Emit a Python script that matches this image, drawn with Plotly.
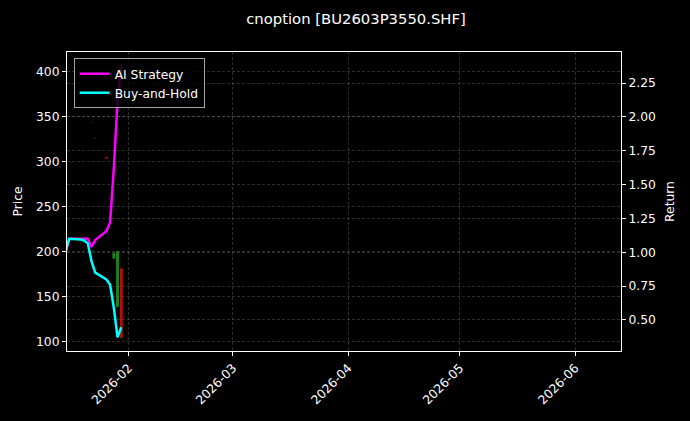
import plotly.graph_objects as go

# daily returns of the two equity curves (right axis)
dates = ['2026-01-15', '2026-01-16', '2026-01-19', '2026-01-20', '2026-01-21', '2026-01-22',
         '2026-01-23', '2026-01-26', '2026-01-27', '2026-01-28', '2026-01-29', '2026-01-30']
ai_ret = [1.00, 1.10, 1.10, 1.10, 1.10, 1.04, 1.09, 1.155, 1.22, 1.62, 2.12, 2.378]
bh_ret = [1.00, 1.10, 1.095, 1.087, 1.066, 0.935, 0.85, 0.80, 0.76, 0.59, 0.372, 0.446]

# option candles (left axis)
c_dates = ['2026-01-22', '2026-01-23', '2026-01-26', '2026-01-28', '2026-01-29', '2026-01-30']
c_open = [344, 326, 304.5, 192.6, 139, 181]
c_high = [344.5, 326.5, 305, 198.2, 200, 181]
c_low = [343.5, 325.5, 303.5, 192.6, 139, 104.8]
c_close = [343.8, 325.8, 303.8, 198.2, 200, 104.8]
faint = [True, True, False, False, False, False]

FONT = 'DejaVu Sans'
GRID = 'rgba(128,128,128,0.35)'

fig = go.Figure()

for is_faint in (True, False):
    idx = [i for i, f in enumerate(faint) if f == is_faint]
    fig.add_trace(go.Candlestick(
        x=[c_dates[i] for i in idx],
        open=[c_open[i] for i in idx],
        high=[c_high[i] for i in idx],
        low=[c_low[i] for i in idx],
        close=[c_close[i] for i in idx],
        increasing=dict(line=dict(color='#1f9e1f', width=1), fillcolor='#1f9e1f'),
        decreasing=dict(line=dict(color='#e01010', width=1), fillcolor='#e01010'),
        opacity=0.3 if is_faint else 0.85,
        showlegend=False,
        hoverinfo='skip',
        yaxis='y',
    ))

fig.add_trace(go.Scatter(x=dates, y=ai_ret, mode='lines', name='AI Strategy',
                         line=dict(color='#ff00ff', width=2.5), yaxis='y2'))
fig.add_trace(go.Scatter(x=dates, y=bh_ret, mode='lines', name='Buy-and-Hold',
                         line=dict(color='#00ffff', width=2.5), yaxis='y2'))

axis_common = dict(
    showline=True, linecolor='white', linewidth=1,
    ticks='outside', ticklen=4, tickcolor='white', tickwidth=1,
    tickfont=dict(family=FONT, size=12.3, color='white'),
    showgrid=True, gridcolor=GRID, gridwidth=0.5, griddash='3px,2px',
    zeroline=False,
)

fig.update_layout(
    width=690, height=421,
    paper_bgcolor='black', plot_bgcolor='black',
    margin=dict(l=67, r=69, t=52, b=70),
    title=dict(text='cnoption [BU2603P3550.SHF]', x=356 / 690, xref='container',
               y=1 - 18.5 / 421, yref='container', xanchor='center', yanchor='middle',
               font=dict(family=FONT, size=14.8, color='white')),
    xaxis=dict(
        axis_common, mirror=True,
        type='date', range=['2026-01-15 10:00', '2026-06-13 07:00'],
        dtick='M1', tick0='2026-02-01', tickformat='%Y-%m', tickangle=-45,
        rangeslider=dict(visible=False),
    ),
    yaxis=dict(
        axis_common, range=[89.7, 421.4], dtick=50, tick0=100,
        title=dict(text='Price', font=dict(family=FONT, size=12.3, color='white'), standoff=10),
    ),
    yaxis2=dict(
        axis_common, overlaying='y', side='right', range=[0.271, 2.479],
        dtick=0.25, tick0=0.5, tickformat='.2f',
        title=dict(text='Return', font=dict(family=FONT, size=12.3, color='white'), standoff=10),
    ),
    legend=dict(
        x=0.012, y=0.979, xanchor='left', yanchor='top',
        bgcolor='rgba(0,0,0,0.8)', bordercolor='rgba(204,204,204,0.8)', borderwidth=1,
        font=dict(family=FONT, size=12.3, color='white'),
        tracegroupgap=2,
    ),
    showlegend=True,
)

fig.write_html('out.html', config={'displayModeBar': False},
               post_script="document.body.style.margin='0';document.body.style.background='black';")
